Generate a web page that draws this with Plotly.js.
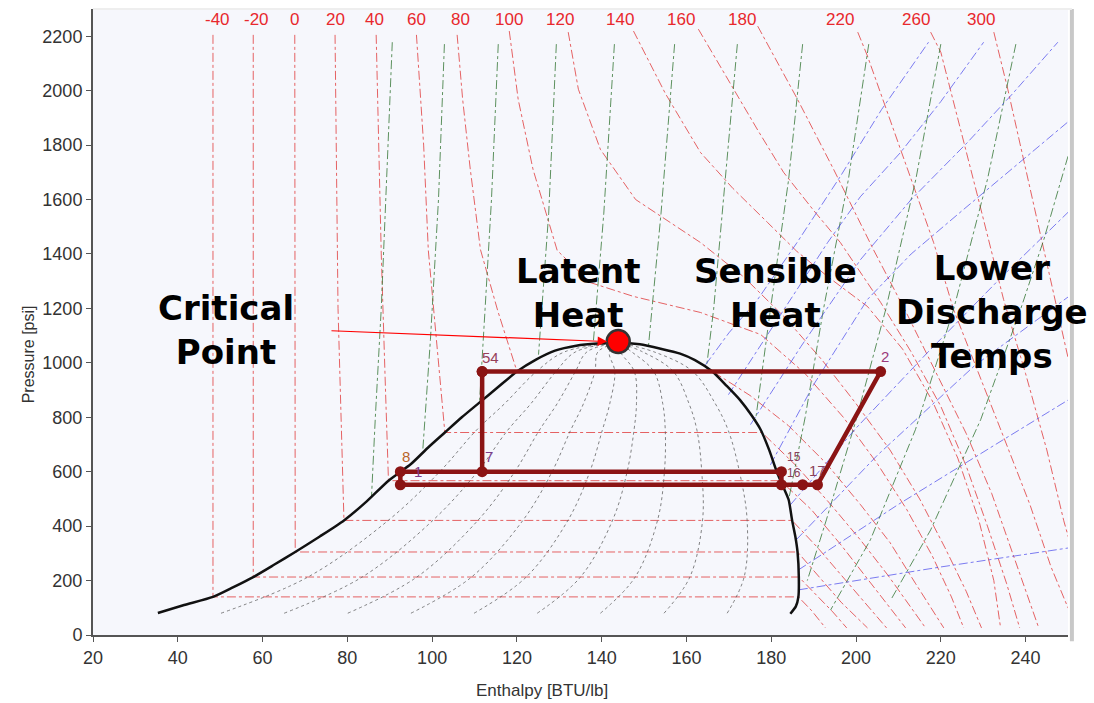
<!DOCTYPE html>
<html><head><meta charset="utf-8">
<script src="https://cdn.plot.ly/plotly-3.0.1.min.js"></script>
<style>html,body{margin:0;padding:0;background:#fff;}#chart{width:1094px;height:703px;}</style>
</head><body><div id="chart"></div>
<script>
// ---- Saturation dome (enthalpy BTU/lb, pressure psi)
const domeH = [35.3,41.5,48.3,53,57.8,62.7,67.7,73.5,79.2,84.5,89.7,95,99,103,107,111,115.5,120,124.5,129,134,139,143.9,149,153.9,158.5,162,166.1,169.5,172.7,175.3,177.5,179.5,181.3,182.6,184.1,184.9,185.7,186.2,186.5,186.4,185.8,184.5];
const domeP = [81,110,140,175,213,258,305,362,421,490,567,628,688,744,800,852,910,968,1012,1045,1063,1071,1074,1068,1052,1034,1010,968,915,862,808,754,680,600,552,497,423,360,305,213,140,105,78];

// ---- Quality lines (x = 0.1 ... 0.9)
const qualP = [80,213,423,600,750,850,968,1040,1074];
const qualH = [
  [50.2,70.7,89.8,101.8,110.3,117.1,124.6,131.2,143.9],
  [65.1,83.5,100.3,110.7,117.7,123.3,129.2,133.8,143.9],
  [80.1,96.4,110.9,119.5,125.2,129.5,133.8,136.5,143.9],
  [95.0,109.3,121.5,128.3,132.6,135.7,138.4,139.1,143.9],
  [109.9,122.2,132.1,137.2,140.1,141.9,143.1,141.8,143.9],
  [124.8,135.0,142.6,146.0,147.6,148.2,147.7,144.4,143.9],
  [139.7,147.9,153.2,154.8,155.0,154.4,152.3,147.1,143.9],
  [154.7,160.8,163.8,163.6,162.5,160.6,156.9,149.7,143.9],
  [169.6,173.6,174.3,172.5,169.9,166.8,161.5,152.4,143.9]
];

// ---- Isotherms (deg F)
const isoT = [-40,-20,0,20,40,60,80,100,120,140,160,180,220,260,300];
const isoLabelH = [49.3,58.5,67.5,77.1,86.3,96.3,106.6,118.2,130.2,144.2,158.6,173.0,196.1,214.1,229.4];
const isoH = [
  [48.3,48.3,186.4,189.5,192.8],
  [57.8,57.8,186.5,190.5,194.5,197.8],
  [67.6,67.7,186.2,191,196.5,202.7],
  [77.1,77.8,79.2,184.9,191,197,202.5,207.2],
  [86.8,88.0,89.0,89.7,182.2,189.5,196.5,202.5,207.5,211.7],
  [96.3,98.0,99.1,101.5,103,177.8,186,194,201,207.5,212.5,216.4],
  [105.9,107.2,109,111.4,115.5,120,166.1,175,184,193,201,208,214,218,220.7],
  [118.2,120.3,123.8,129.5,137.3,147.5,163.3,177.5,188,197,205,212,218,222.5,225.4],
  [132.1,134.5,139.7,148,163.3,173.4,183,192,200,208,215,221,226,229.6],
  [147.5,155,163.3,171,179.1,186,193.3,202.7,211,218,224,229,232.5,234.1],
  [162.8,171.1,177,182.9,190,196.3,205.8,213,220,226,231,235.5,238.6],
  [176.8,186.2,194.7,204.1,212,219,226,232,237,240.5,243.1],
  [200.4,202.7,210.5,218.3,223,229,235,241,246,250,253],
  [217.6,220,228.7,234.8,240,245,249,253],
  [232.5,235.8,243.6,247.1,251,254]
];
const isoP = [
  [2205,140,140,90,26],
  [2205,213,213,150,85,26],
  [2205,305,305,220,120,26],
  [2205,1200,421,421,320,210,110,26],
  [2205,1400,900,567,567,460,330,210,110,26],
  [2205,1800,1413,1000,744,744,620,480,350,220,110,26],
  [2205,1968,1711,1416,1190,969,969,880,770,630,480,340,190,90,26],
  [2219,1968,1711,1413,1295,1244,1185,1104,960,800,630,460,290,140,26],
  [2215,2005,1784,1600,1442,1317,1170,1010,850,680,500,320,160,26],
  [2219,1990,1773,1640,1516,1410,1317,1207,1050,860,650,420,200,26],
  [2226,2005,1850,1700,1560,1442,1222,1040,840,620,400,190,26],
  [2237,1968,1711,1416,1180,960,740,520,300,140,26],
  [2215,2127,1784,1442,1196,960,720,480,250,100,26],
  [2215,2141,1611,1233,960,680,420,200],
  [2215,2005,1464,1222,950,700]
];

// ---- Constant entropy lines (green)
const entH = [
  [90.6,89.4,88,86.6,85.7],
  [102.9,101.5,99.6,97.8],
  [115.6,114,112.5,111.2],
  [129.3,127.5,125.1],
  [143,140.5,138],
  [157.2,154,151],
  [172,169.2,166.4,164.8],
  [187.4,184.1,179.8,176.3],
  [203,198.2,192.3,188,184.1],
  [220,214.1,207,200,193,188.5],
  [237.7,231,223,214,203.4,194],
  [250,244.3,238.8,229.4,217.6,208.2]
];
const entP = [
  [2178,1700,1200,800,508],
  [2171,1600,1085,680],
  [2171,1600,1200,860],
  [2171,1550,1030],
  [2171,1550,1071],
  [2171,1550,1056],
  [2171,1674,1196,993],
  [2171,1674,1196,790],
  [2171,1674,1196,800,497],
  [2171,1674,1196,790,423,200],
  [2171,1674,1196,754,350,92],
  [1759,1453,1196,791,386,129]
];

// ---- Constant density lines (blue)
const volH = [
  [164.5,170,176.8,186,196.3,206,217.1],
  [169.9,181,193.3,201,210.5,220,230.1],
  [175.1,187,201.1,213,226.3,237,247.6],
  [179.8,190,202.7,213,225.4,238,249.9],
  [184.5,200,217,234,250.2],
  [185.9,205,228,250.2],
  [186.4,210,235,250.2],
  [186.5,220,250.2]
];
const volP = [
  [993,1110,1233,1440,1685,1930,2178],
  [883,1150,1442,1610,1773,1960,2178],
  [773,1060,1380,1600,1810,1990,2178],
  [625,920,1233,1400,1564,1730,1884],
  [478,760,1040,1310,1556],
  [350,660,990,1244],
  [239,480,720,865],
  [166,250,320]
];

// ---- Refrigeration cycle state points
const cycLabels = ["8","1","7","54","","15<br>16","","","17","2"];
const cycH = [92.5,92.5,111.8,111.8,111.8,182.4,182.4,187.4,190.9,205.8];
const cycP = [600,552,600,968,968,600,552,552,552,968];
// path through the points (indices), null = break
const cycPath = [1,0,2,5,6,7,8,9,4,2,null,6,1];

const critH = 143.9, critP = 1078;

// ---- Annotation texts (label, enthalpy, pressure of block centre)
const bigTexts = [
  ["Critical<br>Point", 51.4, 1120],
  ["Latent<br>Heat", 134.5, 1258],
  ["Sensible<br>Heat", 181, 1258],
  ["Lower<br>Discharge<br>Temps", 232, 1187]
];

// ---------------------------------------------------------------
const traces = [];
const redLine = {color:'rgba(222,40,40,0.72)', width:1, dash:'dashdot'};
isoT.forEach((t,i)=>traces.push({x:isoH[i], y:isoP[i], mode:'lines', line:redLine, hoverinfo:'skip', showlegend:false}));
entH.forEach((h,i)=>traces.push({x:h, y:entP[i], mode:'lines', line:{color:'rgba(40,110,40,0.75)', width:1, dash:'dashdot'}, hoverinfo:'skip', showlegend:false}));
volH.forEach((h,i)=>traces.push({x:h, y:volP[i], mode:'lines', line:{color:'rgba(70,70,235,0.7)', width:1, dash:'dashdot'}, hoverinfo:'skip', showlegend:false}));
qualH.forEach(h=>traces.push({x:h, y:qualP, mode:'lines', line:{color:'rgba(90,90,90,0.75)', width:1, dash:'dot', shape:'spline'}, hoverinfo:'skip', showlegend:false}));
traces.push({x:domeH, y:domeP, mode:'lines', line:{color:'#111', width:2.5, shape:'spline', smoothing:0.6}, showlegend:false});

const pathH = cycPath.map(i=>i===null?null:cycH[i]);
const pathP = cycPath.map(i=>i===null?null:cycP[i]);
traces.push({x:pathH, y:pathP, mode:'lines', line:{color:'#8b1414', width:4.5}, showlegend:false, connectgaps:false});
traces.push({x:cycH, y:cycP, mode:'markers', marker:{color:'#8b1414', size:11}, showlegend:false});
traces.push({x:[critH], y:[critP], mode:'markers', marker:{color:'#ff0000', size:23, line:{color:'#333', width:2.5}}, showlegend:false});

const annotations = [];
isoT.forEach((t,i)=>annotations.push({x:isoLabelH[i], y:2262, text:String(t), showarrow:false, font:{family:'Liberation Sans, Arial', size:17, color:'#e8282d'}}));

const lblShift = [[6,15],[18,13],[7,15],[8,14],[0,0],[13,7],[0,0],[0,0],[0,14],[4,15]];
const lblColor = ['#b8652a','#7d3a8a','#7d3a8a','#96405a','#7d3a8a','#8a4058','#8a4058','#8a4058','#8a4058','#9a3a7a'];
cycLabels.forEach((s,i)=>{ if(s) annotations.push({x:cycH[i], y:cycP[i], text:s, showarrow:false, xshift:lblShift[i][0], yshift:lblShift[i][1], font:{family:'Liberation Sans, Arial', size:i===5?12:15, color:lblColor[i]}}); });

const bigFont = {family:'DejaVu Sans, Open Sans, sans-serif', size:34, color:'#000', weight:700};
bigTexts.forEach(b=>annotations.push({x:b[1], y:b[2], text:b[0], showarrow:false, font:bigFont}));
annotations.push({x:141.3, y:1078, ax:75.9, ay:1118, axref:'x', ayref:'y', text:'', showarrow:true, arrowhead:2, arrowsize:1.6, arrowwidth:1.2, arrowcolor:'#ff0000'});
annotations.push({xref:'paper', yref:'paper', x:0.46, y:-0.088, yanchor:'middle', text:'Enthalpy [BTU/lb]', showarrow:false, font:{family:'Liberation Sans, Arial', size:17, color:'#333'}});
annotations.push({xref:'paper', yref:'paper', x:-0.076, y:0.449, textangle:-90, text:'Pressure [psi]', showarrow:false, font:{family:'Liberation Sans, Arial', size:16, color:'#333'}});

const tickFont = {family:'Liberation Sans, Arial', size:18, color:'#333'};
const layout = {
  width:1094, height:703,
  margin:{l:93, r:26, t:9, b:68},
  paper_bgcolor:'#ffffff', plot_bgcolor:'#f6f7fc',
  showlegend:false,
  xaxis:{range:[20,250], tickvals:[20,40,60,80,100,120,140,160,180,200,220,240], ticks:'outside', ticklen:5, tickcolor:'#555',
         showline:true, linecolor:'#555', linewidth:2, showgrid:false, zeroline:false, tickfont:tickFont},
  yaxis:{range:[0,2300], tickvals:[0,200,400,600,800,1000,1200,1400,1600,1800,2000,2200], ticks:'outside', ticklen:5, tickcolor:'#555',
         showline:true, linecolor:'#555', linewidth:2, showgrid:false, zeroline:false, tickfont:tickFont},
  annotations:annotations,
  shapes:[
    {type:'line', xref:'paper', yref:'paper', x0:1.004, x1:1.004, y0:-0.01, y1:1.0, line:{color:'#c8c8c8', width:4}},
    {type:'line', xref:'paper', yref:'paper', x0:0, x1:1.004, y0:1.0, y1:1.0, line:{color:'#eeeeee', width:2}}
  ]
};
Plotly.newPlot('chart', traces, layout, {displayModeBar:false, staticPlot:true});
</script></body></html>
